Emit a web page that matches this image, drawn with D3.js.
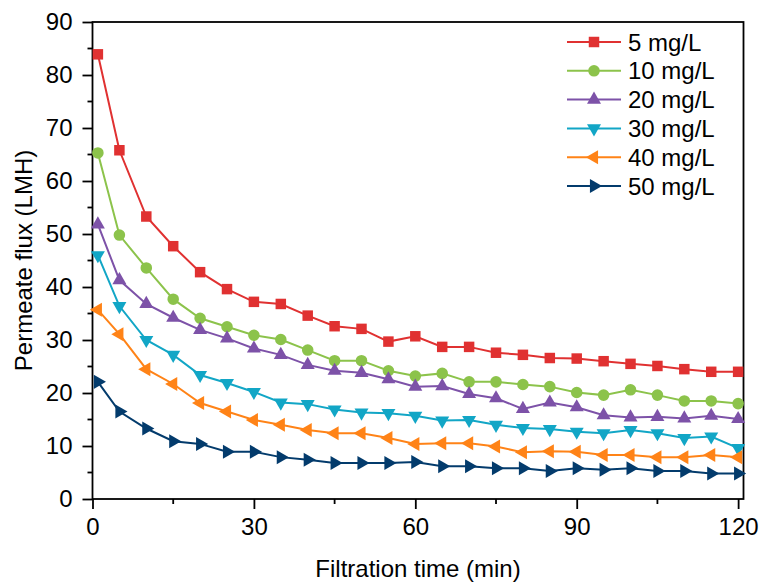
<!DOCTYPE html>
<html lang="en">
<head>
    <meta charset="UTF-8">
    <title>Permeate flux vs filtration time</title>
    <style>
        body { margin: 0; background: #fff; }
        svg { display: block; }
        text { font-family: "Liberation Sans", Arial, sans-serif; fill: #000; }
    </style>
</head>
<body>
    <script src="https://d3js.org/d3.v7.min.js"></script>
    <script>
        const width = 759;
        const height = 582;

        // filtration time (min)
        const times = [1, 5, 10, 15, 20, 25, 30, 35, 40, 45, 50, 55, 60, 65, 70, 75, 80, 85, 90, 95, 100, 105, 110, 115, 120];

        const seriesNames = ["5 mg/L", "10 mg/L", "20 mg/L", "30 mg/L", "40 mg/L", "50 mg/L"];
        const flux5 = [83.9, 65.8, 53.3, 47.7, 42.8, 39.6, 37.2, 36.8, 34.6, 32.6, 32.1, 29.7, 30.7, 28.7, 28.7, 27.6, 27.2, 26.6, 26.5, 26.0, 25.5, 25.1, 24.5, 24.0, 24.0];
        const flux10 = [65.3, 49.8, 43.6, 37.7, 34.1, 32.5, 30.9, 30.1, 28.1, 26.1, 26.1, 24.2, 23.2, 23.7, 22.1, 22.1, 21.6, 21.2, 20.1, 19.6, 20.6, 19.6, 18.5, 18.5, 18.0];
        const flux20 = [51.8, 41.3, 36.8, 34.2, 31.9, 30.3, 28.4, 27.2, 25.3, 24.2, 23.8, 22.6, 21.2, 21.3, 19.8, 19.0, 17.0, 18.2, 17.3, 15.8, 15.4, 15.5, 15.2, 15.7, 15.1];
        const flux30 = [46.0, 36.4, 30.0, 27.2, 23.4, 21.9, 20.2, 18.2, 17.9, 16.9, 16.3, 16.2, 15.7, 14.8, 14.9, 14.0, 13.4, 13.2, 12.7, 12.4, 13.0, 12.4, 11.5, 11.8, 9.6];
        const flux40 = [35.7, 31.1, 24.5, 21.7, 18.1, 16.5, 14.9, 14.0, 13.0, 12.4, 12.4, 11.5, 10.4, 10.5, 10.5, 9.9, 8.8, 9.0, 8.9, 8.3, 8.3, 7.9, 7.9, 8.3, 7.9];
        const flux50 = [22.1, 16.5, 13.3, 10.9, 10.4, 8.9, 8.9, 7.9, 7.4, 6.8, 6.8, 6.8, 7.0, 6.2, 6.2, 5.8, 5.8, 5.3, 5.8, 5.5, 5.8, 5.3, 5.3, 4.8, 4.8];

        const xTicks = [0, 30, 60, 90, 120];
        const yTicks = [0, 10, 20, 30, 40, 50, 60, 70, 80, 90];

        const colors = ["#e03131", "#8cc34b", "#7d52a8", "#12a6c6", "#ff8317", "#033b6c"];
        const shapes = [
            { type: d3.symbolSquare, size: 110, rotate: 0 },
            { type: d3.symbolCircle, size: 105, rotate: 0 },
            { type: d3.symbolTriangle, size: 85, rotate: 0 },
            { type: d3.symbolTriangle, size: 85, rotate: 180 },
            { type: d3.symbolTriangle, size: 85, rotate: -90 },
            { type: d3.symbolTriangle, size: 85, rotate: 90 }
        ];

        const allFlux = [flux5, flux10, flux20, flux30, flux40, flux50];
        const series = seriesNames.map((name, i) => ({
            name: name,
            color: colors[i],
            shape: shapes[i],
            values: times.map((t, j) => ({ t: t, v: allFlux[i][j] }))
        }));

        const margin = { left: 92.5, right: 15.5, top: 22, bottom: 83 };

        const x = d3.scaleLinear().domain([0, 121]).range([margin.left, width - margin.right]);
        const y = d3.scaleLinear().domain([0, 90]).range([height - margin.bottom, margin.top]);

        const svg = d3.select("body")
            .append("svg")
            .attr("width", width)
            .attr("height", height);

        // frame
        svg.append("rect")
            .attr("x", x(0))
            .attr("y", y(90))
            .attr("width", x(121) - x(0))
            .attr("height", y(0) - y(90))
            .attr("fill", "none")
            .attr("stroke", "#000")
            .attr("stroke-width", 1.8);

        // x axis
        const xAxis = svg.append("g")
            .attr("transform", `translate(0,${y(0)})`)
            .call(d3.axisBottom(x).tickValues(xTicks).tickSize(10).tickPadding(9).tickFormat(d3.format("d")));
        xAxis.append("g").selectAll("line")
            .data([15, 45, 75, 105])
            .enter().append("line")
            .attr("x1", d => x(d)).attr("x2", d => x(d))
            .attr("y1", 0).attr("y2", 5)
            .attr("stroke", "#000").attr("stroke-width", 1.8);

        // y axis
        const yAxis = svg.append("g")
            .attr("transform", `translate(${x(0)},0)`)
            .call(d3.axisLeft(y).tickValues(yTicks).tickSize(10).tickPadding(10).tickFormat(d3.format("d")));
        yAxis.append("g").selectAll("line")
            .data(d3.range(5, 90, 10))
            .enter().append("line")
            .attr("y1", d => y(d)).attr("y2", d => y(d))
            .attr("x1", 0).attr("x2", -5)
            .attr("stroke", "#000").attr("stroke-width", 1.8);

        svg.selectAll(".domain").remove();
        svg.selectAll(".tick line").attr("stroke-width", 1.8);
        svg.selectAll(".tick text")
            .style("font-size", "24px")
            .style("font-family", "'Liberation Sans', Arial, sans-serif")
            .attr("fill", "#000");

        // axis titles
        svg.append("text")
            .attr("x", (x(0) + x(121)) / 2)
            .attr("y", 577)
            .attr("text-anchor", "middle")
            .style("font-size", "24px")
            .text("Filtration time (min)");

        svg.append("text")
            .attr("transform", `translate(32,${(y(0) + y(90)) / 2}) rotate(-90)`)
            .attr("text-anchor", "middle")
            .style("font-size", "24px")
            .text("Permeate flux (LMH)");

        // series
        const line = d3.line()
            .x(d => x(d.t))
            .y(d => y(d.v));

        const groups = svg.selectAll(".series")
            .data(series)
            .enter().append("g")
            .attr("class", "series");

        groups.append("path")
            .attr("d", d => line(d.values))
            .attr("fill", "none")
            .attr("stroke", d => d.color)
            .attr("stroke-width", 2);

        groups.each(function(s) {
            d3.select(this).selectAll("path.marker")
                .data(s.values)
                .enter().append("path")
                .attr("class", "marker")
                .attr("d", d3.symbol().type(s.shape.type).size(s.shape.size))
                .attr("transform", d => `translate(${x(d.t)},${y(d.v)}) rotate(${s.shape.rotate})`)
                .attr("fill", s.color);
        });

        // legend
        const legend = svg.append("g");
        const legendItems = legend.selectAll("g")
            .data(series)
            .enter().append("g")
            .attr("transform", (d, i) => `translate(0,${42 + i * 28.8})`);

        legendItems.append("line")
            .attr("x1", 567).attr("x2", 621)
            .attr("y1", 0).attr("y2", 0)
            .attr("stroke", d => d.color)
            .attr("stroke-width", 2);

        legendItems.append("path")
            .attr("d", d => d3.symbol().type(d.shape.type).size(d.shape.size)())
            .attr("transform", d => `translate(594,0) rotate(${d.shape.rotate})`)
            .attr("fill", d => d.color);

        legendItems.append("text")
            .attr("x", 628)
            .attr("y", 0)
            .attr("dy", "0.36em")
            .style("font-size", "24px")
            .text(d => d.name);
    </script>
</body>
</html>
